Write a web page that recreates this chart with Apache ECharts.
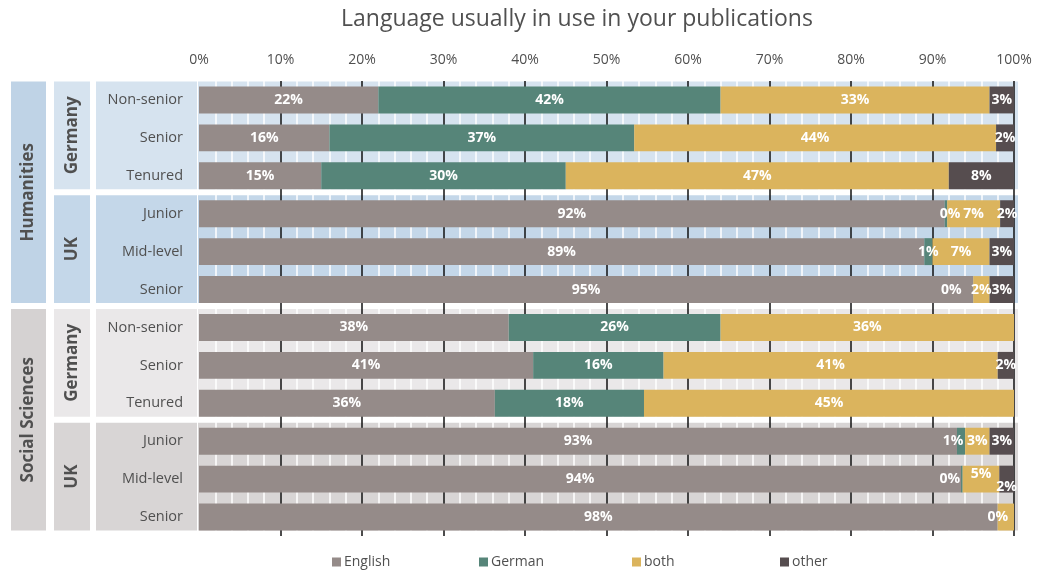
<!DOCTYPE html>
<html><head><meta charset="utf-8">
<script src="https://cdn.jsdelivr.net/npm/echarts@6/dist/echarts.min.js"></script>
<style>html,body{margin:0;padding:0;background:#fff}#c{width:1037px;height:572px}</style>
</head><body><div id="c"></div>
<script>
// ---- data ----
const fields = ['Humanities', 'Social Sciences'];
const countries = ['Germany', 'UK', 'Germany', 'UK'];
const groupField = [0, 0, 1, 1];
const roles = ['Non-senior', 'Senior', 'Tenured', 'Junior', 'Mid-level', 'Senior',
               'Non-senior', 'Senior', 'Tenured', 'Junior', 'Mid-level', 'Senior'];
const rowGroup = [0, 0, 0, 1, 1, 1, 2, 2, 2, 3, 3, 3];
const seriesNames = ['English', 'German', 'both', 'other'];
const english = [22, 16, 15, 91.5, 89, 95, 38, 41, 36.3, 93, 93.5, 98];
const german  = [42, 37.4, 30, 0.3, 1, 0, 26, 16, 18.3, 1, 0.2, 0];
const both    = [33, 44.4, 47, 6.5, 7, 2, 36, 41, 45.4, 3, 4.5, 2];
const other   = [3, 2.2, 8, 1.7, 3, 3, null, 2, null, 3, 1.8, null];
const xMin = 0, xMax = 100, xStep = 10;

// ---- style ----
const colors = ['#958b89', '#568579', '#dbb45d', '#564d4f'];
const groupColors = ['#d6e3ef', '#c4d7e9', '#eae8e9', '#d8d5d5'];
const fieldColors = ['#bfd3e6', '#d5d2d2'];
const txt = '#505050';
const FONT = 'Open Sans';
// label nudges (row index -> label override) to mimic overlap avoidance
const labelTweaks = {
  German: {3: {offset: [4, 0]}, 5: {offset: [-22, 0]}, 9: {offset: [-8, 0]}, 10: {offset: [-12, 0]}},
  both: {10: {offset: [0, -5]}, 11: {show: false}},
  other: {10: {offset: [0, 8]}}
};

const values = [english, german, both, other];
const series = seriesNames.map((name, si) => ({
  name, type: 'bar', stack: 'total', barWidth: '71%',
  itemStyle: {color: colors[si]},
  emphasis: {disabled: true},
  label: {show: true, position: 'inside', color: '#fff', fontWeight: 'bold', fontSize: 14, fontFamily: FONT,
          formatter: p => Math.round(p.value) + '%'},
  data: values[si].map((v, i) => {
    const t = labelTweaks[name] && labelTweaks[name][i];
    return t ? {value: v, label: t} : v;
  })
}));

const legendLefts = [327, 474, 627, 775];
const option = {
  animation: false,
  textStyle: {fontFamily: FONT},
  title: {text: 'Language usually in use in your publications', left: 336, top: 3,
          textStyle: {fontFamily: FONT, fontSize: 23, fontWeight: 'normal', color: txt}},
  legend: seriesNames.map((n, i) => ({
    data: [n], left: legendLefts[i], top: 550, icon: 'rect', itemWidth: 9, itemHeight: 9, itemGap: 0,
    textStyle: {color: txt, fontSize: 14, fontFamily: FONT, padding: [0, 0, 0, -2]}, selectedMode: false
  })),
  grid: {left: 199, right: 23, top: 81, bottom: 36, containLabel: false},
  xAxis: {
    type: 'value', position: 'top', min: xMin, max: xMax, interval: xStep, z: 1,
    axisLine: {show: false}, axisTick: {show: false},
    axisLabel: {formatter: '{value}%', color: txt, fontSize: 14, fontFamily: FONT, margin: 14},
    splitLine: {show: true, showMinLine: false, lineStyle: {color: '#111', width: 1.5}},
    minorTick: {show: false, splitNumber: 5},
    minorSplitLine: {show: true, lineStyle: {color: '#ffffff', width: 1.5}}
  },
  yAxis: {
    type: 'category', inverse: true, data: roles.map((r, i) => i), z: 1,
    axisLine: {show: false}, axisTick: {show: false},
    axisLabel: {formatter: v => roles[+v], color: txt, fontSize: 14.5, fontFamily: FONT, margin: 16},
    splitLine: {show: false}
  },
  series
};

const chart = echarts.init(document.getElementById('c'));
chart.setOption(option);

// ---- panels drawn through the axis scale ----
const py = i => chart.convertToPixel({yAxisIndex: 0}, i);
const step = py(1) - py(0);
const groups = [];
rowGroup.forEach((g, i) => {
  if (!groups[g]) groups[g] = {first: i, last: i};
  groups[g].last = i;
});
const gfx = [];
const gTop = g => py(groups[g].first) - step / 2 + 0.5;
const gBot = g => py(groups[g].last) + step / 2 - 5.5;
const x100 = chart.convertToPixel({xAxisIndex: 0}, xMax);
groups.forEach((gr, g) => {
  const t = gTop(g), b = gBot(g), c = (t + b) / 2;
  gfx.push({type: 'rect', z: 0, shape: {x: 198, y: t, width: x100 + 4 - 198, height: b - t}, style: {fill: groupColors[g]}});
  gfx.push({type: 'rect', z: 0, shape: {x: 96, y: t, width: 101, height: b - t}, style: {fill: groupColors[g]}});
  gfx.push({type: 'rect', z: 0, shape: {x: 54, y: t, width: 36, height: b - t}, style: {fill: groupColors[g]}});
  gfx.push({type: 'text', z: 0, x: 72, y: c, rotation: Math.PI / 2,
            style: {text: countries[g], fill: txt, font: 'bold 17px "Open Sans"', align: 'center', verticalAlign: 'middle'}});
});
fields.forEach((f, fi) => {
  const gs = groupField.map((x, i) => x === fi ? i : -1).filter(i => i >= 0);
  const t = gTop(gs[0]), b = gBot(gs[gs.length - 1]), c = (t + b) / 2;
  gfx.push({type: 'rect', z: 0, shape: {x: 11, y: t, width: 35, height: b - t}, style: {fill: fieldColors[fi]}});
  gfx.push({type: 'text', z: 0, x: 28.5, y: c, rotation: Math.PI / 2,
            style: {text: f, fill: txt, font: 'bold 17px "Open Sans"', align: 'center', verticalAlign: 'middle'}});
});
chart.setOption({graphic: {elements: gfx}});
</script>
</body></html>
